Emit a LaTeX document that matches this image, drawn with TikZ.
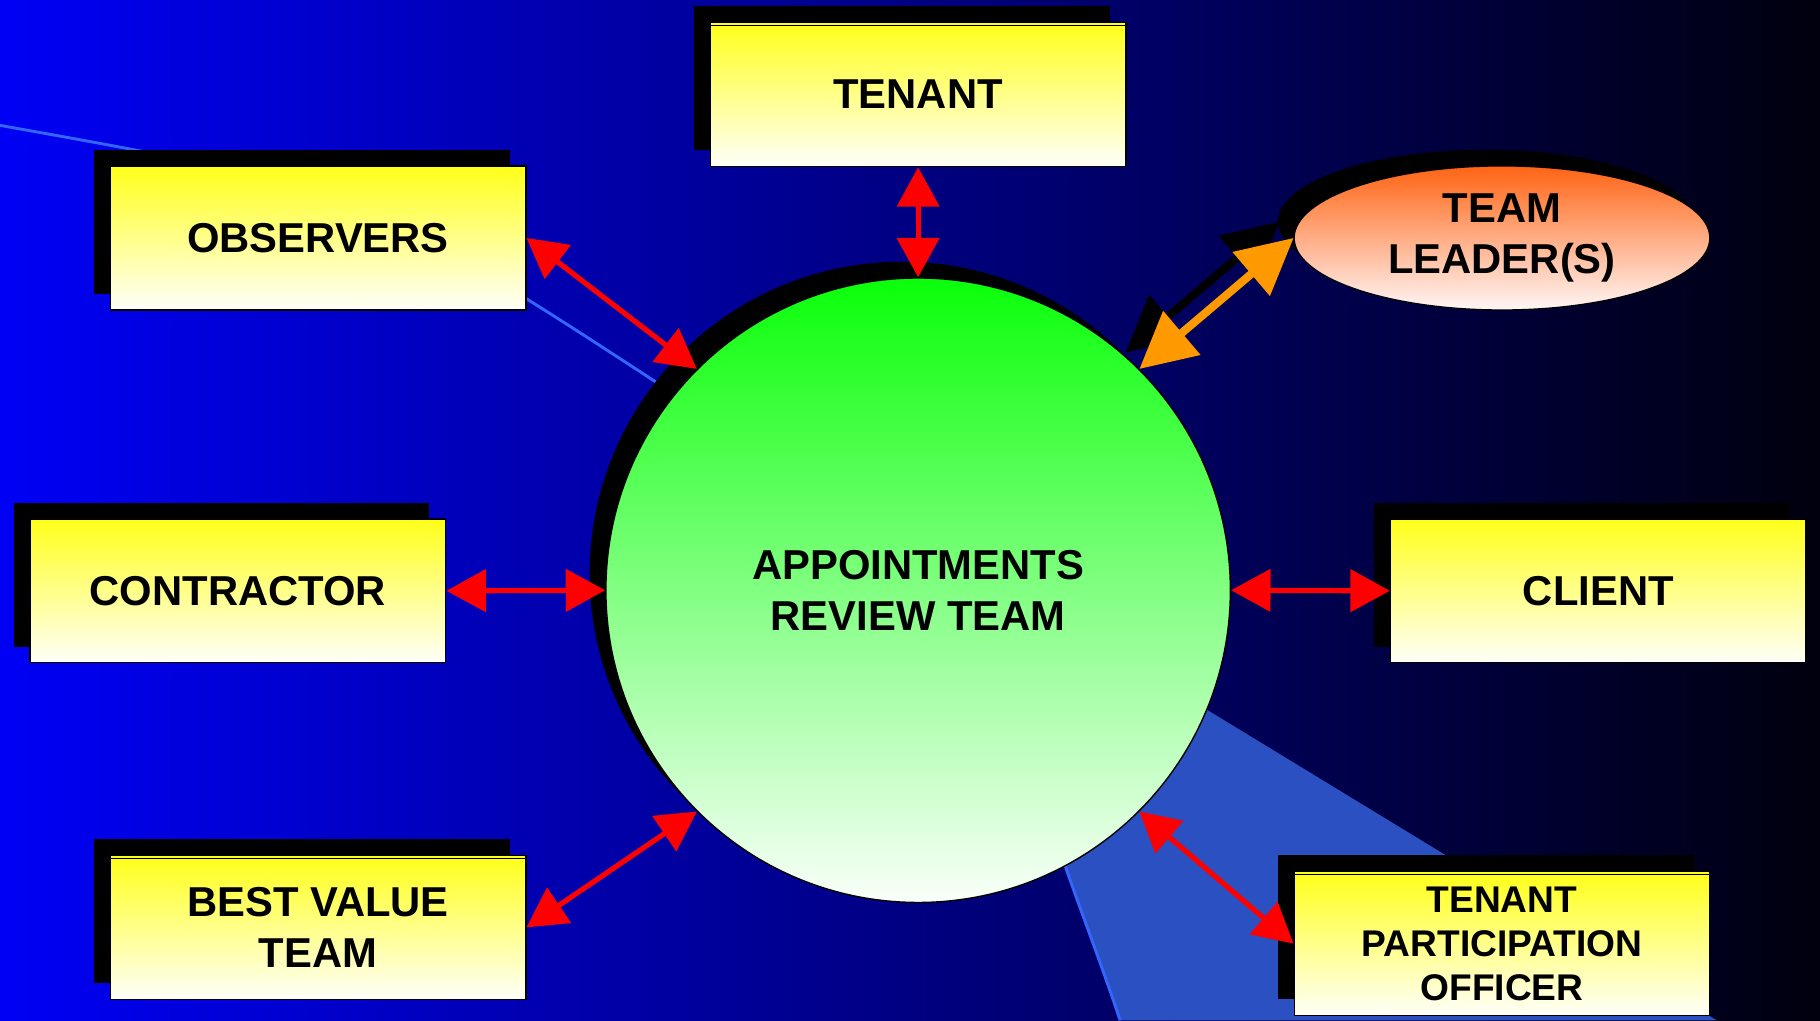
\documentclass[tikz,border=0pt]{standalone}
\usepackage{fontspec}
\setmainfont{Liberation Sans}
\usetikzlibrary{arrows.meta,shapes.geometric,shadows}
\definecolor{bgleft}{RGB}{0,0,245}
\definecolor{bgright}{RGB}{0,0,14}
\definecolor{wedgecol}{RGB}{42,80,194}
\definecolor{thinblue}{RGB}{51,102,255}
\definecolor{boxtop}{RGB}{255,255,25}
\definecolor{boxbot}{RGB}{255,255,250}
\definecolor{circtop}{RGB}{10,255,10}
\definecolor{circbot}{RGB}{250,255,250}
\definecolor{ovtop}{RGB}{255,100,20}
\definecolor{ovbot}{RGB}{255,246,246}
\definecolor{arrorange}{RGB}{255,153,0}
\definecolor{arrred}{RGB}{255,0,0}
\begin{document}
\begin{tikzpicture}[x=1pt,y=-1pt,
  blackshadow/.style={general shadow={fill=black, shadow xshift=-14pt, shadow yshift=14pt}},
  labelfont/.style={font=\bfseries\fontsize{36}{44}\selectfont},
  boxnode/.style={rectangle, draw=black, line width=1.2pt, minimum width=358pt,
    minimum height=124pt, inner sep=0pt, top color=boxtop, bottom color=boxbot,
    blackshadow, align=center, labelfont},
  ovalnode/.style={ellipse, draw=black, line width=1pt, minimum width=358pt,
    minimum height=124pt, inner sep=0pt, top color=ovtop, bottom color=ovbot,
    blackshadow, align=center, labelfont},
  hubnode/.style={circle, draw=black, line width=1.2pt, minimum size=538pt,
    inner sep=0pt, top color=circtop, bottom color=circbot, blackshadow,
    align=center, labelfont},
  redarrow/.style={draw=arrred, line width=4.5pt,
    {Triangle[length=34pt,width=36pt]}-{Triangle[length=34pt,width=36pt]}},
  orangearrow/.style={draw=arrorange, line width=7pt,
    {Triangle[length=48pt,width=48pt]}-{Triangle[length=48pt,width=48pt]}},
  topline/.style={draw=black, line width=1pt}
]
% background
\fill[left color=bgleft, right color=bgright] (0,0) rectangle (1568,879);
\useasboundingbox (0,0) rectangle (1568,879);
% decorative arc on the left
\draw[thinblue, line width=2.5pt] (0,108) .. controls (313,164) .. (600,352);
% decorative wedge lower right
\fill[wedgecol] (870,508) -- (1479,879) -- (965,879)
  .. controls (950,834) and (933,790) .. (918,747) -- (880,640) -- cycle;
\draw[thinblue, line width=2.5pt] (965,879) .. controls (950,834) and (933,790) .. (918,747) -- (900,700);

% hub
\node[hubnode] (art) at (791,508.5) {APPOINTMENTS\\REVIEW TEAM};

% boxes
\node[boxnode] (tenant) at (791,81.5) {TENANT};
\node[boxnode] (obs) at (274,205) {OBSERVERS};
\node[boxnode] (cont) at (205,509) {CONTRACTOR};
\node[boxnode] (client) at (1377,509) {CLIENT};
\node[boxnode] (bv) at (274,799) {BEST VALUE\\TEAM};
\node[boxnode, font=\bfseries\fontsize{32}{38}\selectfont] (tpo) at (1294,813) {TENANT\\PARTICIPATION\\OFFICER};
\node[ovalnode] (tl) at (1294,205) {TEAM\\LEADER(S)};

\foreach \b in {tenant,bv,tpo}
  \draw[topline] ([yshift=-3pt]\b.north west) -- ([yshift=-3pt]\b.north east);

% connectors
\draw[redarrow] (tenant.south) -- (art.north);
\draw[redarrow] (obs.east) -- (art.135);
\draw[redarrow] (cont.east) -- (art.west);
\draw[redarrow] (art.east) -- (client.west);
\draw[redarrow] (bv.east) -- (art.225);
\draw[redarrow] (art.-45) -- (tpo.west);
\draw[orangearrow, draw=black, transform canvas={xshift=-12pt,yshift=14pt}] (art.45) -- (tl.west);
\draw[orangearrow] (art.45) -- (tl.west);
\end{tikzpicture}
\end{document}
